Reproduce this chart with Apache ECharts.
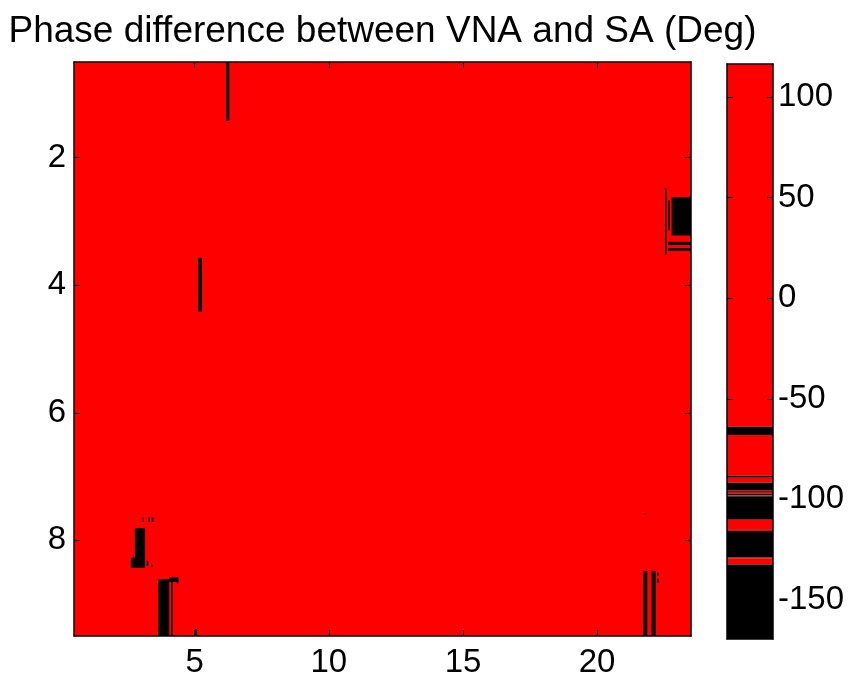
<!DOCTYPE html>
<html>
<head>
<meta charset="utf-8">
<script src="https://cdn.jsdelivr.net/npm/echarts@6.0.0/dist/echarts.min.js"></script>
<style>
  html, body { margin: 0; padding: 0; background: #ffffff; }
  #chart { width: 856px; height: 682px; }
</style>
</head>
<body>
<div id="chart"></div>
<script>
// Colormap levels (deg), listed from top of the colour bar to the bottom
const levelEdges = [116.4, -63.9, -68.0, -88.3, -89.3, -91.7, -95.4, -95.9, -96.7, -97.2,
                    -98.0, -98.5, -110.1, -114.7, -115.1, -115.7, -128.9, -129.3, -132.4, -169.4];
const levelColors = ['#ff0000', '#000000', '#ff0000', '#000000', '#ff0000', '#000000', '#ff0000',
                     '#000000', '#ff0000', '#000000', '#ff0000', '#000000', '#ff0000', '#7f0000',
                     '#ff0000', '#000000', '#7f0000', '#ff0000', '#000000'];

// Phase map regions: column span, row span and phase difference (deg)
const regionX0 = [0.5, 6.17, 5.13, 22.53, 22.65, 22.78, 22.64, 22.64,
                  2.77, 2.62, 3.06, 3.27, 3.40, 3.21, 3.37,
                  3.64, 4.12, 4.05, 4.33, 5.01,
                  21.72, 22.03, 22.24, 22.24, 21.74];
const regionX1 = [23.5, 6.29, 5.27, 22.59, 22.71, 23.5, 23.5, 23.5,
                  3.15, 2.77, 3.11, 3.33, 3.46, 3.27, 3.42,
                  4.05, 4.18, 4.39, 4.39, 5.08,
                  21.87, 22.18, 22.30, 22.30, 21.82];
const regionY0 = [0.5, 0.5, 3.57, 2.48, 2.67, 2.62, 3.32, 3.42,
                  7.81, 8.27, 7.64, 7.64, 7.64, 8.32, 8.38,
                  8.61, 8.60, 8.58, 8.58, 9.39,
                  8.48, 8.48, 8.51, 8.60, 7.57];
const regionY1 = [9.5, 1.42, 4.41, 3.52, 3.14, 3.22, 3.37, 3.46,
                  8.43, 8.43, 7.71, 7.71, 7.71, 8.40, 8.42,
                  9.5, 9.5, 8.65, 8.68, 9.5,
                  9.5, 9.5, 8.56, 8.67, 7.60];
const regionPhase = [20, -150, -150, -140, -140, -150, -140, -140,
                     -150, -150, -140, -140, -140, -140, -140,
                     -150, -150, -140, -140, -140,
                     -150, -150, -140, -140, -115];

// Tick labels
const xTicks = [5, 10, 15, 20];
const yTicks = [2, 4, 6, 8];
const barTicks = [-150, -100, -50, 0, 50, 100];

const FONT = 'Liberation Sans, Arial, Helvetica, sans-serif';

const mapData = regionX0.map((x0, i) => [x0, regionX1[i], regionY0[i], regionY1[i], regionPhase[i]]);
const barData = levelColors.map((c, i) => {
  const hi = levelEdges[i], lo = levelEdges[i + 1];
  return [0, 1, lo, hi, (hi + lo) / 2];
});
const pieces = levelColors.map((c, i) => ({ gt: levelEdges[i + 1], lte: levelEdges[i], color: c }));

function renderRect(params, api) {
  const p0 = api.coord([api.value(0), api.value(2)]);
  const p1 = api.coord([api.value(1), api.value(3)]);
  return {
    type: 'rect',
    shape: {
      x: Math.min(p0[0], p1[0]),
      y: Math.min(p0[1], p1[1]),
      width: Math.abs(p1[0] - p0[0]),
      height: Math.abs(p1[1] - p0[1])
    },
    style: { fill: api.visual('color') }
  };
}

const lineStyle = { color: '#000000', width: 1.5 };
const frameLine = { show: true, onZero: false, lineStyle };
const tickIn = (vals) => ({
  show: true, inside: true, length: 6, customValues: vals,
  lineStyle: { color: '#000000', width: 1 }
});
const labelStyle = { color: '#000000', fontSize: 33, fontFamily: FONT };

const chart = echarts.init(document.getElementById('chart'), null, { renderer: 'canvas' });
chart.setOption({
  backgroundColor: '#ffffff',
  animation: false,
  graphic: [{
    type: 'text',
    x: 382.5, y: 32,
    style: {
      text: 'Phase difference between VNA and SA (Deg)',
      fill: '#000000', fontSize: 37, fontFamily: FONT,
      align: 'center', verticalAlign: 'middle'
    }
  }],
  grid: [
    { left: 74, top: 62, width: 617, height: 574, outerBoundsMode: 'none' },
    { left: 727, top: 64, width: 46, height: 575, outerBoundsMode: 'none' }
  ],
  xAxis: [
    { gridIndex: 0, type: 'value', min: 0.5, max: 23.5, position: 'bottom', z: 5,
      axisLine: frameLine, splitLine: { show: false },
      axisTick: tickIn(xTicks),
      axisLabel: Object.assign({ margin: 10, customValues: xTicks }, labelStyle) },
    { gridIndex: 0, type: 'value', min: 0.5, max: 23.5, position: 'top', z: 5,
      axisLine: frameLine, splitLine: { show: false },
      axisTick: tickIn(xTicks), axisLabel: { show: false } },
    { gridIndex: 1, type: 'value', min: 0, max: 1, position: 'bottom', z: 5,
      axisLine: frameLine, splitLine: { show: false },
      axisTick: { show: false }, axisLabel: { show: false } },
    { gridIndex: 1, type: 'value', min: 0, max: 1, position: 'top', z: 5,
      axisLine: frameLine, splitLine: { show: false },
      axisTick: { show: false }, axisLabel: { show: false } }
  ],
  yAxis: [
    { gridIndex: 0, type: 'value', min: 0.5, max: 9.5, inverse: true, position: 'left', z: 5,
      axisLine: frameLine, splitLine: { show: false },
      axisTick: tickIn(yTicks),
      axisLabel: Object.assign({ margin: 8, customValues: yTicks }, labelStyle) },
    { gridIndex: 0, type: 'value', min: 0.5, max: 9.5, inverse: true, position: 'right', z: 5,
      axisLine: frameLine, splitLine: { show: false },
      axisTick: tickIn(yTicks), axisLabel: { show: false } },
    { gridIndex: 1, type: 'value', min: -169.4, max: 116.4, position: 'right', z: 5,
      axisLine: frameLine, splitLine: { show: false },
      axisTick: tickIn(barTicks),
      axisLabel: Object.assign({ margin: 5, customValues: barTicks }, labelStyle) },
    { gridIndex: 1, type: 'value', min: -169.4, max: 116.4, position: 'left', z: 5,
      axisLine: frameLine, splitLine: { show: false },
      axisTick: tickIn(barTicks), axisLabel: { show: false } }
  ],
  visualMap: {
    type: 'piecewise', show: false, dimension: 4, seriesIndex: [0, 1],
    pieces: pieces
  },
  series: [
    { type: 'custom', name: 'phase', xAxisIndex: 0, yAxisIndex: 0, clip: true,
      encode: { x: [0, 1], y: [2, 3] }, renderItem: renderRect, data: mapData },
    { type: 'custom', name: 'colorbar', xAxisIndex: 2, yAxisIndex: 2, clip: true,
      encode: { x: [0, 1], y: [2, 3] }, renderItem: renderRect, data: barData }
  ]
});
</script>
</body>
</html>
